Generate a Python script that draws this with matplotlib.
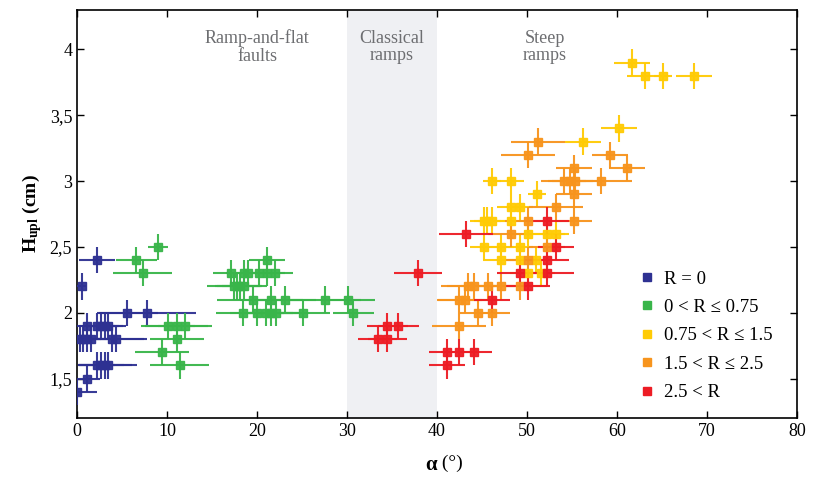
import matplotlib
matplotlib.use("Agg")
import matplotlib.pyplot as plt
from matplotlib.lines import Line2D
from matplotlib.ticker import FuncFormatter, MultipleLocator

plt.rcParams["font.family"] = ["Liberation Serif", "DejaVu Serif"]
plt.rcParams["mathtext.fontset"] = "custom"
plt.rcParams["mathtext.rm"] = "Liberation Serif"
plt.rcParams["mathtext.bf"] = "Liberation Serif:bold"

Y_ERR = 0.1

# R = 0
blue_x = [0.0, 1.1, 2.2, 2.7, 3.1, 3.4, 0.3, 0.7, 1.1, 1.5, 3.9, 4.3,
          1.1, 2.2, 2.7, 3.1, 3.4, 5.6, 7.8, 0.5, 2.2]
blue_y = [1.4, 1.5, 1.6, 1.6, 1.6, 1.6, 1.8, 1.8, 1.8, 1.8, 1.8, 1.8,
          1.9, 1.9, 1.9, 1.9, 1.9, 2.0, 2.0, 2.2, 2.4]
blue_xerr = [2.2, 1.5, 2.0, 2.5, 3.0, 3.3, 1.5, 2.0, 2.5, 3.0, 3.5, 3.5,
             1.5, 2.0, 2.0, 2.0, 2.0, 3.4, 5.4, 0.5, 2.0]

# 0 < R <= 0.75
green_x = [9.0, 6.6, 7.3, 10.1, 11.1, 12.0, 11.1, 9.4, 11.4, 21.1,
           17.1, 18.6, 19.0, 20.2, 21.1, 22.0, 17.4, 17.8, 18.1, 18.6,
           19.5, 21.6, 23.1, 27.6, 30.1, 18.4, 20.0, 21.0, 21.6, 22.1, 25.1, 30.7]
green_y = [2.5, 2.4, 2.3, 1.9, 1.9, 1.9, 1.8, 1.7, 1.6, 2.4,
           2.3, 2.3, 2.3, 2.3, 2.3, 2.3, 2.2, 2.2, 2.2, 2.2,
           2.1, 2.1, 2.1, 2.1, 2.1, 2.0, 2.0, 2.0, 2.0, 2.0, 2.0, 2.0]
green_xerr = [1.1, 2.3, 3.3, 3.0, 3.5, 3.0, 3.0, 3.0, 3.3, 2.0,
              2.0, 2.0, 2.0, 2.0, 2.0, 2.0, 3.0, 2.5, 2.5, 2.5,
              4.0, 3.5, 3.5, 4.0, 3.0, 3.0, 3.0, 3.0, 3.0, 3.0, 3.0, 2.3]

# 0.75 < R <= 1.5
yellow_x = [61.7, 63.1, 65.1, 68.6, 60.2, 56.2, 46.1, 48.2, 51.1, 48.2, 49.2,
            45.2, 45.6, 46.1, 48.2, 50.1, 52.2, 53.2, 45.2, 47.1, 49.2,
            47.1, 49.2, 51.0, 50.1, 51.6]
yellow_y = [3.9, 3.8, 3.8, 3.8, 3.4, 3.3, 3.0, 3.0, 2.9, 2.8, 2.8,
            2.7, 2.7, 2.7, 2.7, 2.6, 2.6, 2.6, 2.5, 2.5, 2.5,
            2.4, 2.4, 2.4, 2.3, 2.3]
yellow_xerr = [2.0, 2.0, 1.0, 2.0, 2.0, 2.0, 1.0, 1.5, 1.0, 1.5, 1.5,
               1.5, 1.5, 1.5, 1.5, 2.0, 2.0, 1.5, 1.5, 1.5, 1.5,
               2.0, 2.0, 1.5, 2.0, 1.5]

# 1.5 < R <= 2.5
orange_x = [51.2, 50.1, 59.2, 61.1, 55.2, 54.1, 54.8, 55.3, 58.2, 55.2, 53.2,
            50.1, 55.2, 48.2, 52.2, 50.1, 43.4, 44.1, 45.7, 47.1, 49.2,
            42.5, 43.1, 44.6, 46.1, 42.5]
orange_y = [3.3, 3.2, 3.2, 3.1, 3.1, 3.0, 3.0, 3.0, 3.0, 2.9, 2.8,
            2.7, 2.7, 2.6, 2.5, 2.4, 2.2, 2.2, 2.2, 2.2, 2.2,
            2.1, 2.1, 2.0, 2.0, 1.9]
orange_xerr = [3.0, 3.0, 2.0, 2.0, 2.0, 2.5, 2.5, 2.5, 3.5, 2.0, 3.0,
               2.5, 2.0, 2.5, 2.0, 2.5, 3.0, 3.0, 3.0, 3.0, 3.0,
               2.5, 3.0, 2.0, 2.0, 3.0]

# 2.5 < R
red_x = [37.9, 34.5, 35.7, 33.4, 34.5, 41.1, 42.5, 44.1, 41.1, 46.1,
         43.2, 52.2, 53.2, 52.2, 49.2, 52.2, 50.1]
red_y = [2.3, 1.9, 1.9, 1.8, 1.8, 1.7, 1.7, 1.7, 1.6, 2.1,
         2.6, 2.7, 2.5, 2.4, 2.3, 2.3, 2.2]
red_xerr = [2.7, 2.3, 2.3, 2.2, 2.2, 2.0, 2.0, 2.0, 2.0, 2.0,
            3.0, 2.5, 2.0, 2.5, 2.5, 3.0, 2.5]

labels = ["R = 0", "0 < R ≤ 0.75", "0.75 < R ≤ 1.5", "1.5 < R ≤ 2.5", "2.5 < R"]
colors = ["#2e3192", "#39b54a", "#ffcb05", "#f7941d", "#ed1c24"]
series = [(blue_x, blue_y, blue_xerr), (green_x, green_y, green_xerr),
          (yellow_x, yellow_y, yellow_xerr), (orange_x, orange_y, orange_xerr),
          (red_x, red_y, red_xerr)]

fig = plt.figure(figsize=(8.14, 4.82), dpi=100)
ax = fig.add_axes([0.0946, 0.1328, 0.8845, 0.8465])

ax.axvspan(30, 40, color="#eff0f3", zorder=0, lw=0)

for (xs, ys, xe), c in zip(series, colors):
    ax.errorbar(xs, ys, xerr=xe, yerr=Y_ERR, fmt="s", color=c, ms=5.5,
                mec=c, ecolor=c, elinewidth=1.5, capsize=0, alpha=0.95,
                zorder=3)

ax.set_xlim(0, 80)
ax.set_ylim(1.2, 4.3)
ax.xaxis.set_major_locator(MultipleLocator(10))
ax.yaxis.set_major_locator(MultipleLocator(0.5))
ax.yaxis.set_major_formatter(FuncFormatter(lambda v, _: ("%g" % v).replace(".", ",")))
ax.tick_params(direction="in", top=True, right=True, length=5, width=1,
               labelsize=13)
for s in ax.spines.values():
    s.set_linewidth(1.2)

note_kw = dict(ha="center", va="center", fontsize=13, color="#6d6e71",
               linespacing=1.05)
ax.text(20, 4.02, "Ramp-and-flat\nfaults", **note_kw)
ax.text(35, 4.02, "Classical\nramps", **note_kw)
ax.text(52, 4.02, "Steep\nramps", **note_kw)

handles = [Line2D([], [], marker="s", ls="none", color=c, ms=6) for c in colors]
ax.legend(handles, labels, loc="lower right", bbox_to_anchor=(0.99, 0.0),
          frameon=False, fontsize=13.5, handlelength=0.8, handletextpad=0.5,
          labelspacing=0.6)

ax.set_ylabel(r"$\mathbf{H_{upl}}$ (cm)", fontsize=14, fontweight="bold")
ax.text(0.5, -0.09, "α", transform=ax.transAxes, ha="right", va="top",
        fontsize=15, fontweight="bold")
ax.text(0.5, -0.09, " (°)", transform=ax.transAxes, ha="left", va="top",
        fontsize=14)

fig.savefig("out.png", dpi=100)
